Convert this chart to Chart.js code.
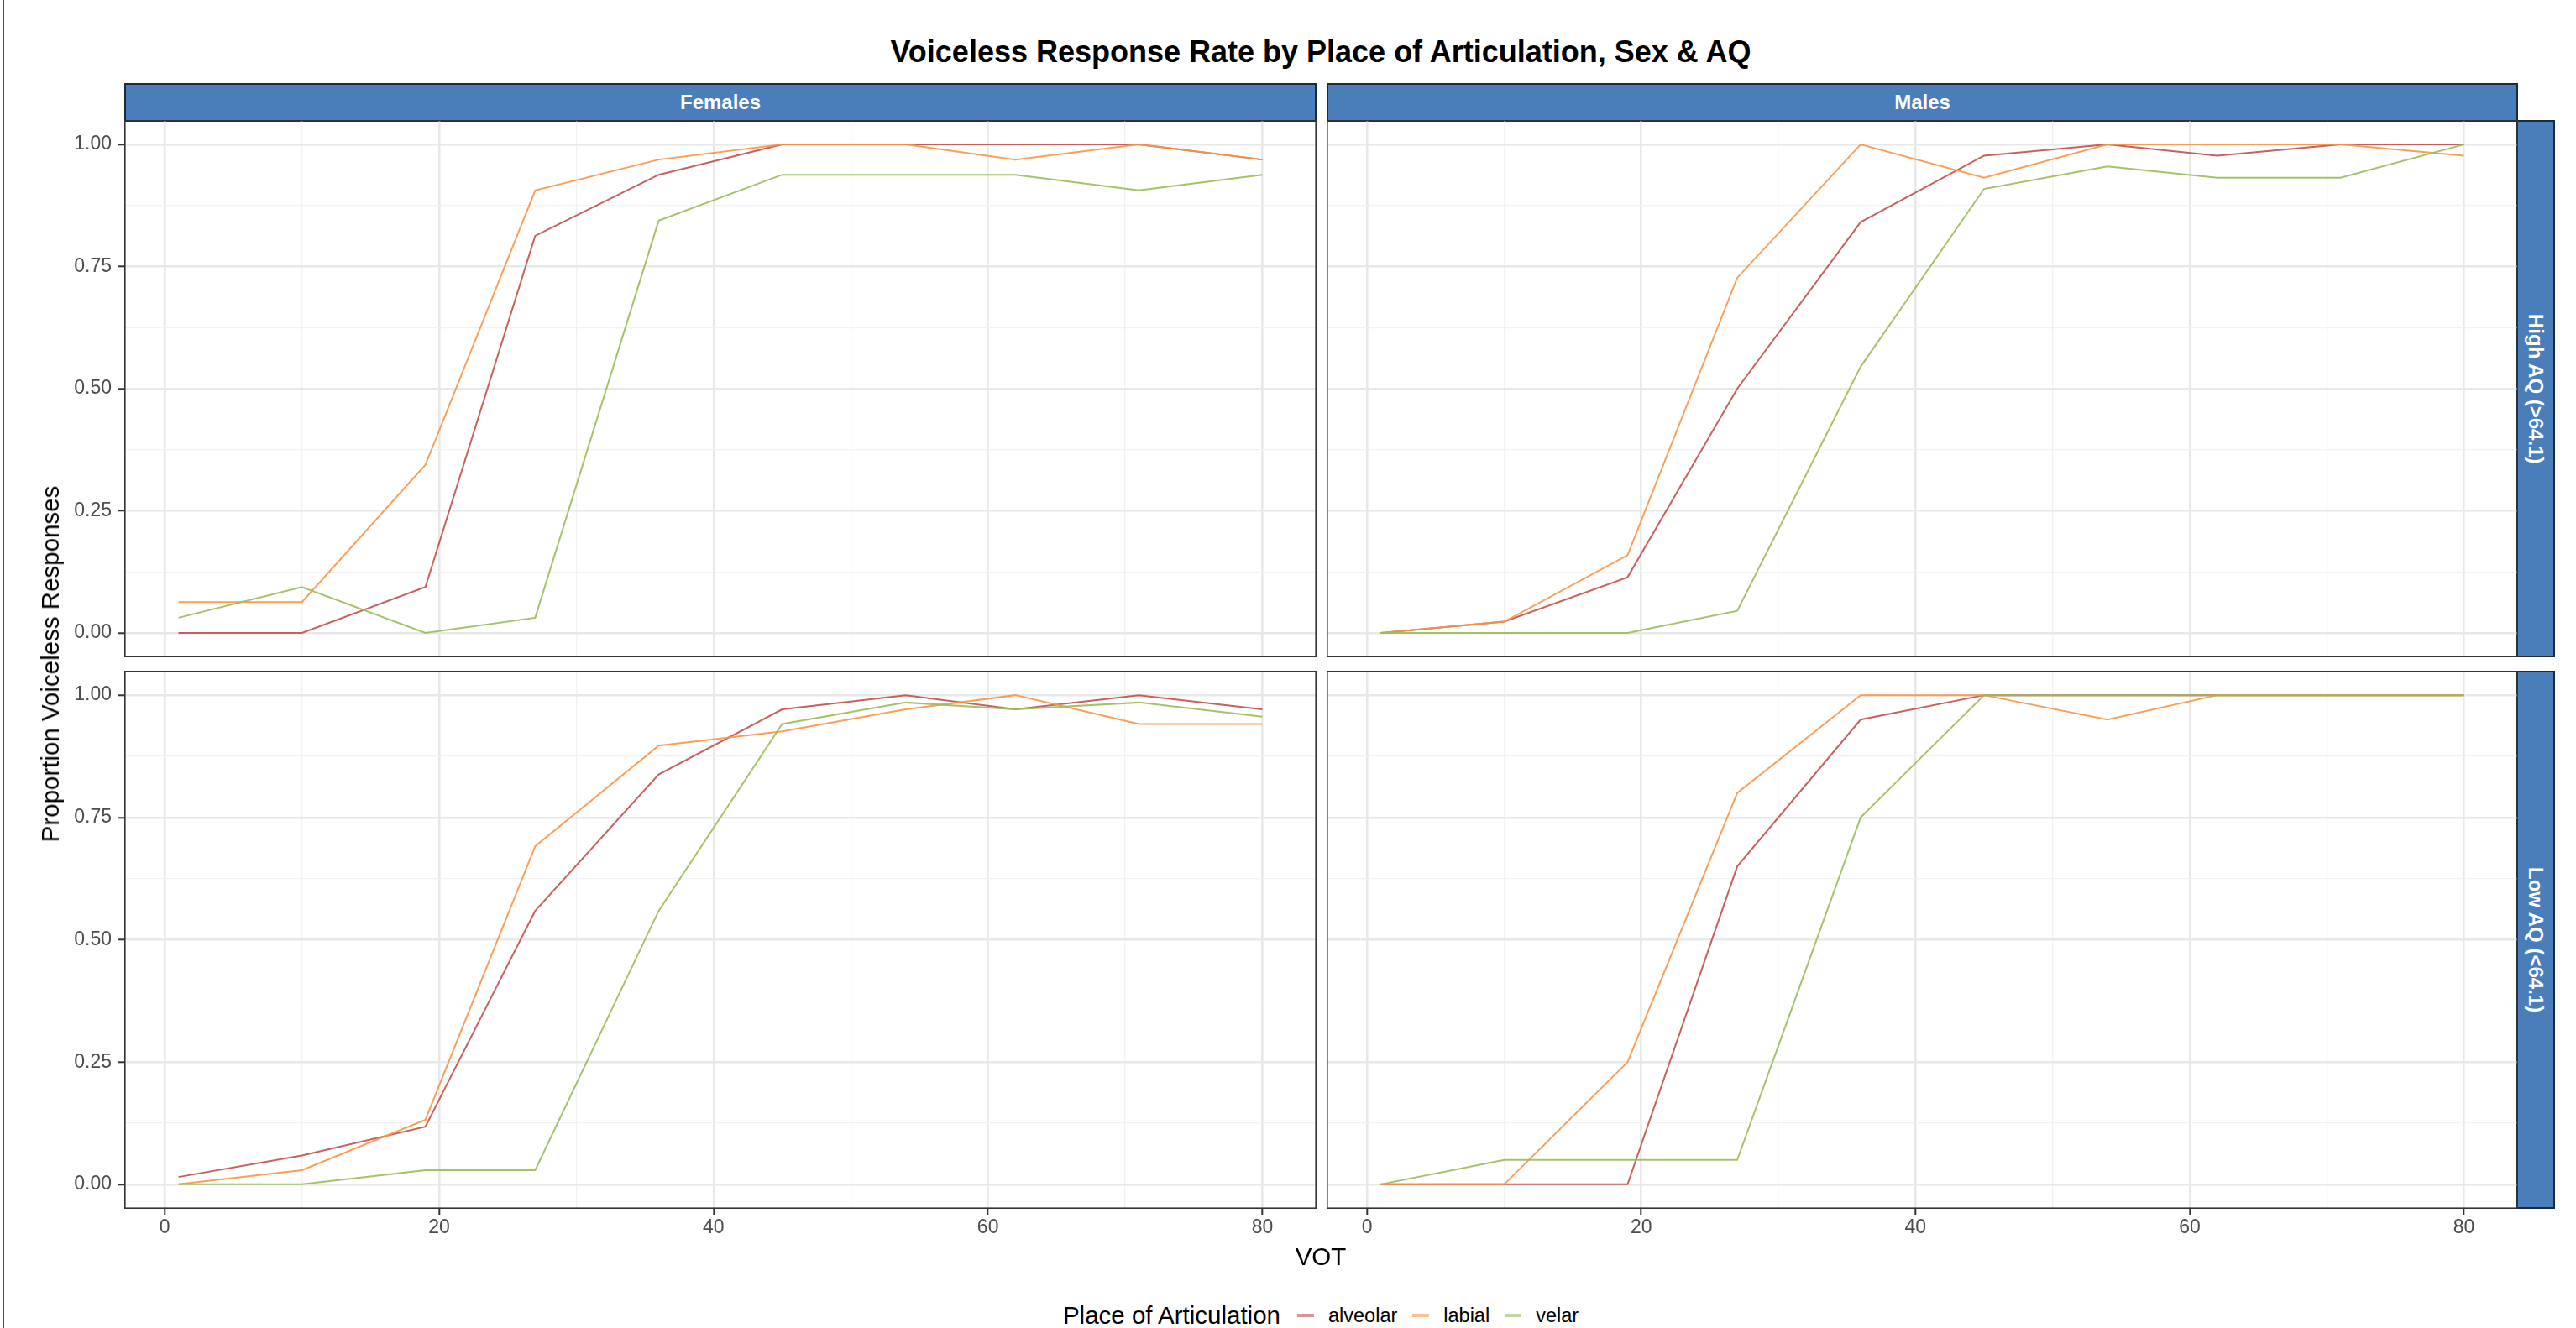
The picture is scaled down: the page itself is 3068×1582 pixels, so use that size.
<!DOCTYPE html>
<html lang="en">
<head>
  <meta charset="UTF-8">
  <title>Voiceless Response Rate by Place of Articulation, Sex &amp; AQ</title>
  <script src="https://cdn.jsdelivr.net/npm/chart.js"></script>
  <style>
    body { margin: 0; background: #fff; font-family: "Liberation Sans", Arial, Helvetica, sans-serif; }
    #page { position: relative; width: 3068px; height: 1582px; overflow: hidden; background: #fff; }
    .edge { position: absolute; left: 3px; top: 0; width: 2px; height: 1582px; background: #34527a; }
    .title { position: absolute; left: 148px; width: 2850px; top: 44px; line-height: 36px; text-align: center; font-weight: bold; font-size: 36px; color: #000; }
    .strip { position: absolute; background: #4a7ebb; border: 2px solid #1f2a38; box-sizing: border-box; color: #fff; font-weight: bold; font-size: 24px; display: flex; align-items: center; justify-content: center; }
    .strip.right { writing-mode: vertical-rl; }
    canvas { position: absolute; }
    .ytitle { position: absolute; left: 60px; top: 791px; transform: translate(-50%, -50%) rotate(-90deg); white-space: nowrap; font-size: 29.5px; color: #000; }
    .xtitle { position: absolute; left: 1573px; top: 1497px; transform: translate(-50%, -50%); font-size: 29.5px; color: #000; }
    .legend { position: absolute; left: 1573px; top: 1567px; transform: translate(-50%, -50%); display: flex; align-items: center; white-space: nowrap; }
    .legend .ltitle { font-size: 29.5px; margin-right: 20px; }
    .legend .key { width: 20px; height: 4px; margin-right: 17px; }
    .legend .lab { font-size: 23.5px; margin-right: 18px; }
  </style>
</head>
<body>
<div id="page">
  <div class="edge"></div>
  <div class="title">Voiceless Response Rate by Place of Articulation, Sex &amp; AQ</div>

  <!-- bandeaux des facettes -->
  <div class="strip" style="left:148px; top:99px; width:1420px; height:46px;">Females</div>
  <div class="strip" style="left:1580px; top:99px; width:1419px; height:46px;">Males</div>
  <div class="strip right" style="left:2997px; top:143px; width:46px; height:640px;">High AQ (&gt;64.1)</div>
  <div class="strip right" style="left:2997px; top:799px; width:46px; height:641px;">Low AQ (&lt;64.1)</div>

  <canvas id="femHigh" width="1528" height="640" style="left:40px; top:143px;"></canvas>
  <canvas id="maleHigh" width="1419" height="640" style="left:1580px; top:143px;"></canvas>
  <canvas id="femLow" width="1528" height="701" style="left:40px; top:799px;"></canvas>
  <canvas id="maleLow" width="1419" height="701" style="left:1580px; top:799px;"></canvas>

  <div class="ytitle">Proportion Voiceless Responses</div>
  <div class="xtitle">VOT</div>
  <div class="legend">
    <span class="ltitle">Place of Articulation</span>
    <span class="key" style="background: rgba(192,80,77,0.6);"></span><span class="lab">alveolar</span>
    <span class="key" style="background: rgba(247,150,70,0.6);"></span><span class="lab">labial</span>
    <span class="key" style="background: rgba(155,187,89,0.6);"></span><span class="lab" style="margin-right:0">velar</span>
  </div>
</div>

<script>
  // valeurs
  const vot = [1, 10, 19, 27, 36, 45, 54, 62, 71, 80];
  const places = ['alveolar', 'labial', 'velar'];

  const femHighAlveolar = [0, 0, 0.094, 0.813, 0.938, 1, 1, 1, 1, 0.969];
  const femHighLabial   = [0.063, 0.063, 0.344, 0.906, 0.969, 1, 1, 0.969, 1, 0.969];
  const femHighVelar    = [0.031, 0.094, 0, 0.031, 0.844, 0.938, 0.938, 0.938, 0.906, 0.938];

  const maleHighAlveolar = [0, 0.023, 0.114, 0.5, 0.841, 0.977, 1, 0.977, 1, 1];
  const maleHighLabial   = [0, 0.023, 0.159, 0.727, 1, 0.932, 1, 1, 1, 0.977];
  const maleHighVelar    = [0, 0, 0, 0.045, 0.545, 0.909, 0.955, 0.932, 0.932, 1];

  const femLowAlveolar = [0.015, 0.059, 0.118, 0.559, 0.838, 0.971, 1, 0.971, 1, 0.971];
  const femLowLabial   = [0, 0.029, 0.132, 0.691, 0.897, 0.926, 0.971, 1, 0.941, 0.941];
  const femLowVelar    = [0, 0, 0.029, 0.029, 0.559, 0.941, 0.985, 0.971, 0.985, 0.956];

  const maleLowAlveolar = [0, 0, 0, 0.65, 0.95, 1, 1, 1, 1, 1];
  const maleLowLabial   = [0, 0, 0.25, 0.8, 1, 1, 0.95, 1, 1, 1];
  const maleLowVelar    = [0, 0.05, 0.05, 0.05, 0.75, 1, 1, 1, 1, 1];

  const xMajor = [0, 20, 40, 60, 80];
  const xMinor = [10, 30, 50, 70];
  const yMajor = [0, 0.25, 0.5, 0.75, 1];
  const yMinor = [0.125, 0.375, 0.625, 0.875];

  const lineColors = ['rgba(192,80,77,0.9)', 'rgba(247,150,70,0.9)', 'rgba(155,187,89,0.9)'];
  const fontFamily = "'Liberation Sans', Arial, Helvetica, sans-serif";

  // cadre du panneau (dessine par-dessus les courbes)
  const panelBorder = {
    id: 'panelBorder',
    afterDatasetsDraw(chart) {
      const a = chart.chartArea;
      const ctx = chart.ctx;
      ctx.save();
      ctx.strokeStyle = '#333333';
      ctx.lineWidth = 1.6;
      ctx.strokeRect(a.left + 0.8, a.top + 0.8, a.right - a.left - 1.6, a.bottom - a.top - 1.6);
      ctx.restore();
    }
  };

  function gridOpts(major) {
    return {
      color: c => (c.tick && major.includes(c.tick.value)) ? '#e8e8e8' : '#f2f2f2',
      lineWidth: c => (c.tick && major.includes(c.tick.value)) ? 2.6 : 1.3,
      tickColor: c => (c.tick && major.includes(c.tick.value)) ? '#333333' : 'rgba(0,0,0,0)',
      tickWidth: 2,
      tickLength: 7
    };
  }

  function makePanel(id, series, showX, showY) {
    const datasets = series.map((vals, i) => ({
      label: places[i],
      data: vals.map((v, k) => ({ x: vot[k], y: v })),
      borderColor: lineColors[i],
      borderWidth: 2,
      pointRadius: 0,
      tension: 0,
      fill: false,
      order: 2 - i
    }));

    return new Chart(document.getElementById(id), {
      type: 'line',
      data: { datasets: datasets },
      plugins: [panelBorder],
      options: {
        responsive: false,
        animation: false,
        layout: { padding: 0 },
        plugins: { legend: { display: false }, tooltip: { enabled: false } },
        scales: {
          x: {
            type: 'linear',
            min: -2.95, max: 83.95,
            border: { display: false },
            grid: Object.assign(gridOpts(xMajor), { drawTicks: showX }),
            afterBuildTicks: s => { s.ticks = xMajor.concat(xMinor).sort((a, b) => a - b).map(v => ({ value: v })); },
            ticks: {
              display: showX,
              autoSkip: false,
              maxRotation: 0,
              padding: 2,
              color: '#4d4d4d',
              font: { family: fontFamily, size: 23 },
              callback: v => xMajor.includes(v) ? String(v) : ''
            },
            afterFit: s => { s.height = showX ? 60 : 0; s.paddingLeft = 0; s.paddingRight = 0; }
          },
          y: {
            type: 'linear',
            min: -0.05, max: 1.05,
            border: { display: false },
            grid: Object.assign(gridOpts(yMajor), { drawTicks: showY }),
            afterBuildTicks: s => { s.ticks = yMajor.concat(yMinor).sort((a, b) => a - b).map(v => ({ value: v })); },
            ticks: {
              display: showY,
              autoSkip: false,
              padding: 8,
              color: '#4d4d4d',
              font: { family: fontFamily, size: 23 },
              callback: v => yMajor.includes(v) ? v.toFixed(2) : ''
            },
            afterFit: s => { s.width = showY ? 108 : 0; s.paddingTop = 0; s.paddingBottom = 0; }
          }
        }
      }
    });
  }

  makePanel('femHigh', [femHighAlveolar, femHighLabial, femHighVelar], false, true);
  makePanel('maleHigh', [maleHighAlveolar, maleHighLabial, maleHighVelar], false, false);
  makePanel('femLow', [femLowAlveolar, femLowLabial, femLowVelar], true, true);
  makePanel('maleLow', [maleLowAlveolar, maleLowLabial, maleLowVelar], true, false);
</script>
</body>
</html>
